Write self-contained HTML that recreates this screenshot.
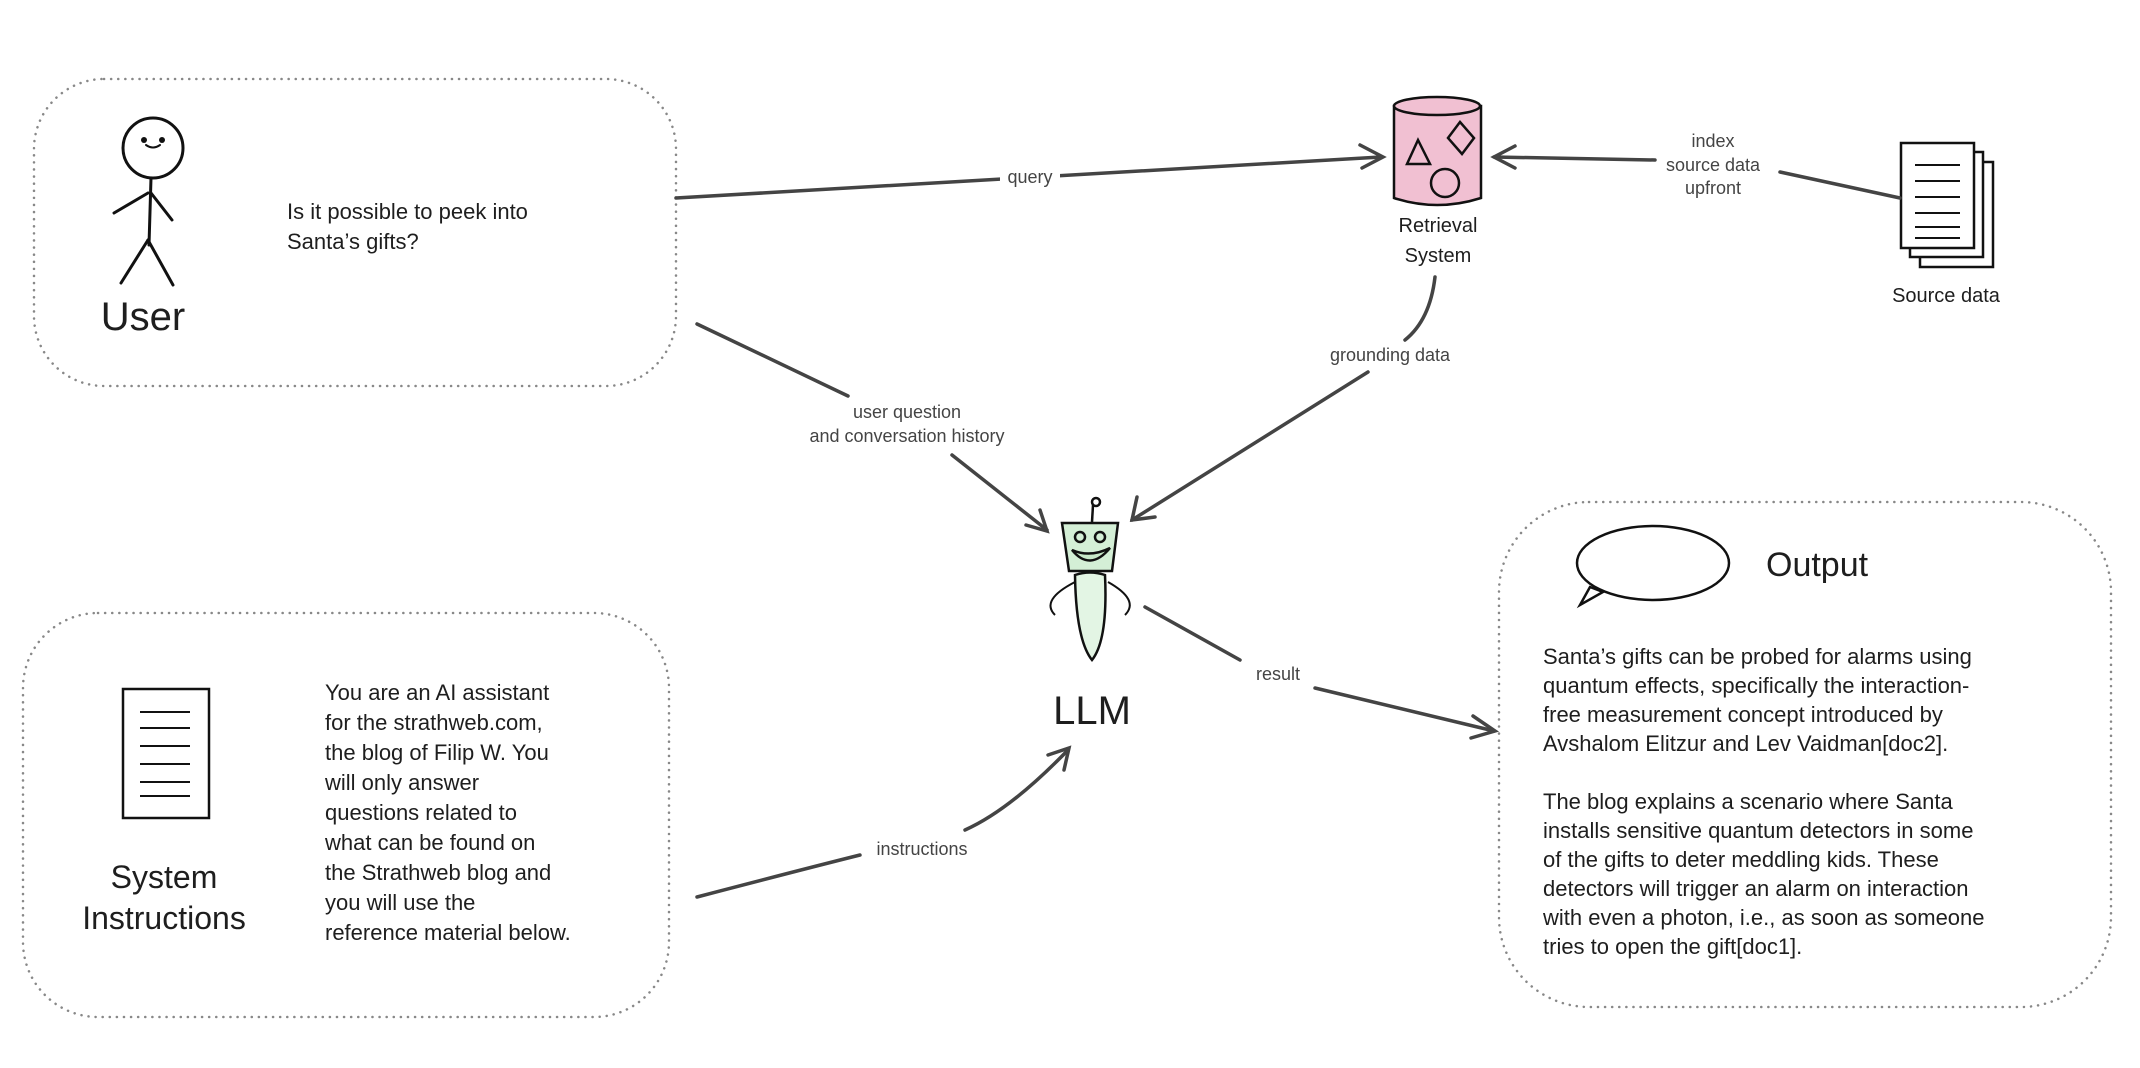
<!DOCTYPE html>
<html><head><meta charset="utf-8"><style>
html,body{margin:0;padding:0;background:#fff;width:2140px;height:1068px;overflow:hidden}
svg{display:block}
text{font-family:"Liberation Sans",sans-serif;fill:#1e1e1e}
.lbl{font-size:18px;fill:#444;text-anchor:middle}
.body{font-size:22px}
.ln{stroke:#444;stroke-width:3.5;fill:none;stroke-linecap:round}
.box{fill:none;stroke:#888;stroke-width:2.5;stroke-dasharray:0.1 7;stroke-linecap:round}
</style></head><body>
<svg width="2140" height="1068" viewBox="0 0 2140 1068" xmlns="http://www.w3.org/2000/svg">
<rect class="box" x="34" y="79" width="642" height="307" rx="70"/>
<rect class="box" x="23" y="613" width="646" height="404" rx="75"/>
<rect class="box" x="1499" y="502" width="612" height="505" rx="90"/>

<g stroke="#111" stroke-width="3" fill="none" stroke-linecap="round">
<circle cx="153" cy="148" r="30"/>
<line x1="151" y1="178" x2="149" y2="245"/>
<line x1="148" y1="193" x2="114" y2="213"/>
<line x1="151" y1="193" x2="172" y2="220"/>
<line x1="148" y1="240" x2="121" y2="283"/>
<line x1="148" y1="240" x2="173" y2="285"/>
<path d="M146 145 q7 5 14 0" stroke-width="2"/>
</g>
<circle cx="144" cy="140" r="3" fill="#111"/><circle cx="162" cy="140" r="3" fill="#111"/>
<text x="143" y="330" font-size="40" text-anchor="middle">User</text>
<text class="body" x="287" y="219" font-size="23">Is it possible to peek into</text>
<text class="body" x="287" y="249" font-size="23">Santa’s gifts?</text>

<path class="ln" d="M676 198 L1381 157"/>
<path class="ln" d="M1360 145 L1383 157 L1362 168"/>
<rect x="1000" y="165" width="60" height="22" fill="#fff"/>
<text class="lbl" x="1030" y="183">query</text>

<g stroke="#111" stroke-width="2.5">
<path d="M1394 106 L1394 198 Q1437 212 1481 198 L1481 106 Z" fill="#f1c0d2"/>
<ellipse cx="1437" cy="106" rx="43" ry="9" fill="#f1c0d2"/>
<path d="M1407 164 L1418 140 L1430 164 Z" fill="none"/>
<path d="M1460 122 L1474 138 L1462 154 L1448 138 Z" fill="none"/>
<circle cx="1445" cy="183" r="14" fill="none"/>
</g>
<text x="1438" y="232" font-size="20" text-anchor="middle">Retrieval</text>
<text x="1438" y="262" font-size="20" text-anchor="middle">System</text>

<g stroke="#111" stroke-width="2.5" fill="#fff">
<rect x="1920" y="162" width="73" height="105"/>
<rect x="1910" y="152" width="73" height="105"/>
<rect x="1901" y="143" width="73" height="105"/>
<g fill="none" stroke-width="2"><path d="M1915 165 h45 M1915 181 h45 M1915 197 h45 M1915 213 h45 M1915 227 h45 M1915 238 h45"/></g>
</g>
<text x="1946" y="302" font-size="20" text-anchor="middle">Source data</text>

<path class="ln" d="M1900 198 L1780 172 M1655 160 L1494 157"/>
<path class="ln" d="M1515 146 L1494 157 L1515 168"/>
<text class="lbl" x="1713" y="147">index</text>
<text class="lbl" x="1713" y="171">source data</text>
<text class="lbl" x="1713" y="194">upfront</text>

<path class="ln" d="M1435 277 Q1430 320 1405 340 M1368 372 L1132 520"/>
<path class="ln" d="M1137 497 L1132 520 L1155 517"/>
<text class="lbl" x="1390" y="361">grounding data</text>

<path class="ln" d="M697 324 L848 396 M952 455 L1047 530"/>
<path class="ln" d="M1026 525 L1047 531 L1040 510"/>
<text class="lbl" x="907" y="418">user question</text>
<text class="lbl" x="907" y="442">and conversation history</text>

<g stroke="#111" stroke-width="2.5">
<line x1="1092" y1="522" x2="1093" y2="505"/>
<circle cx="1096" cy="502" r="4" fill="#fff"/>
<path d="M1062 523 L1118 523 L1112 571 L1069 571 Z" fill="#d4efd6"/>
<circle cx="1080" cy="537" r="5" fill="none"/><circle cx="1100" cy="537" r="5" fill="none"/>
<path d="M1072 550 Q1090 572 1110 548 Q1090 558 1072 550 Z" fill="#c8e8c8"/>
<path d="M1075 575 Q1090 570 1105 575 Q1108 640 1092 660 Q1076 640 1075 575 Z" fill="#e3f5e4"/>
<path d="M1075 582 Q1040 600 1055 615 M1108 582 Q1140 600 1125 615" fill="none" stroke-width="2"/>
</g>
<text x="1092" y="724" font-size="40" text-anchor="middle">LLM</text>

<path class="ln" d="M1145 607 L1240 660 M1315 688 L1494 731"/>
<path class="ln" d="M1473 716 L1495 731 L1471 738"/>
<text class="lbl" x="1278" y="680">result</text>

<path class="ln" d="M697 897 Q800 870 860 855 M965 830 Q1010 810 1068 750"/>
<path class="ln" d="M1048 755 L1069 748 L1064 770"/>
<text class="lbl" x="922" y="855">instructions</text>

<g stroke="#111" stroke-width="2.5" fill="none">
<rect x="123" y="689" width="86" height="129"/>
<path d="M140 712 h50 M140 728 h50 M140 746 h50 M140 764 h50 M140 782 h50 M140 796 h50" stroke-width="2"/>
</g>
<text x="164" y="888" font-size="32" text-anchor="middle">System</text>
<text x="164" y="929" font-size="32" text-anchor="middle">Instructions</text>
<g class="body" font-size="23">
<text x="325" y="700">You are an AI assistant</text>
<text x="325" y="730">for the strathweb.com,</text>
<text x="325" y="760">the blog of Filip W. You</text>
<text x="325" y="790">will only answer</text>
<text x="325" y="820">questions related to</text>
<text x="325" y="850">what can be found on</text>
<text x="325" y="880">the Strathweb blog and</text>
<text x="325" y="910">you will use the</text>
<text x="325" y="940">reference material below.</text>
</g>

<g stroke="#111" stroke-width="2.5" fill="#fff">
<path d="M1590 587 L1580 605 L1603 592 Z"/>
<ellipse cx="1653" cy="563" rx="76" ry="37"/>
</g>
<text x="1766" y="576" font-size="34">Output</text>
<g font-size="22">
<text x="1543" y="664">Santa’s gifts can be probed for alarms using</text>
<text x="1543" y="693">quantum effects, specifically the interaction-</text>
<text x="1543" y="722">free measurement concept introduced by</text>
<text x="1543" y="751">Avshalom Elitzur and Lev Vaidman[doc2].</text>
<text x="1543" y="809">The blog explains a scenario where Santa</text>
<text x="1543" y="838">installs sensitive quantum detectors in some</text>
<text x="1543" y="867">of the gifts to deter meddling kids. These</text>
<text x="1543" y="896">detectors will trigger an alarm on interaction</text>
<text x="1543" y="925">with even a photon, i.e., as soon as someone</text>
<text x="1543" y="954">tries to open the gift[doc1].</text>
</g>
</svg>
</body></html>
